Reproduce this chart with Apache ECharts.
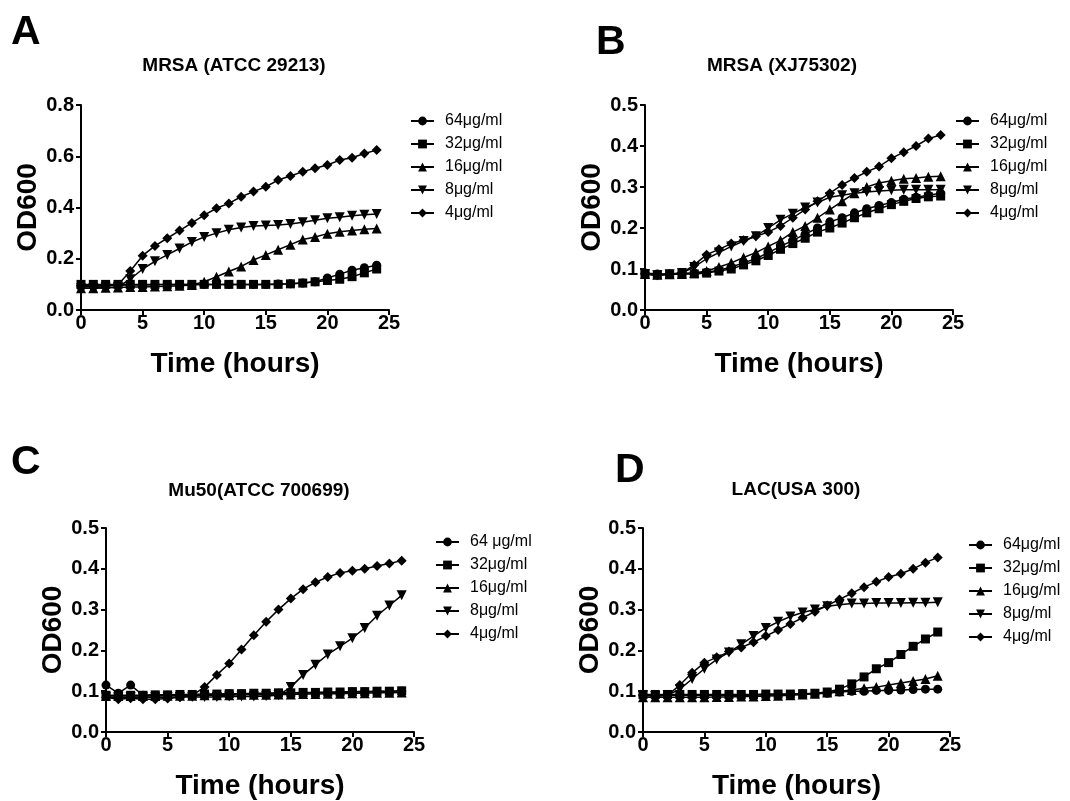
<!DOCTYPE html>
<html>
<head>
<meta charset="utf-8">
<script src="https://cdn.jsdelivr.net/npm/echarts@6/dist/echarts.min.js"></script>
<style>html,body{margin:0;padding:0;background:#fff}#c{width:1070px;height:801px}</style>
</head>
<body>
<div id="c"></div>
<script>
var hours = [0,1,2,3,4,5,6,7,8,9,10,11,12,13,14,15,16,17,18,19,20,21,22,23,24];
var xTicks = [0,5,10,15,20,25];

// Panel A: MRSA (ATCC 29213)
var a64 = [0.090,0.092,0.095,0.097,0.098,0.098,0.099,0.100,0.100,0.100,0.100,0.100,0.100,0.100,0.100,0.100,0.101,0.102,0.105,0.110,0.125,0.140,0.155,0.165,0.175];
var a32 = [0.100,0.100,0.100,0.100,0.100,0.100,0.100,0.100,0.100,0.100,0.100,0.100,0.100,0.100,0.100,0.100,0.100,0.102,0.105,0.110,0.115,0.120,0.130,0.145,0.160];
var a16 = [0.085,0.085,0.087,0.088,0.090,0.090,0.092,0.093,0.095,0.098,0.110,0.130,0.150,0.170,0.195,0.215,0.235,0.255,0.275,0.285,0.298,0.305,0.310,0.315,0.318];
var a8  = [0.085,0.085,0.088,0.090,0.120,0.160,0.190,0.215,0.240,0.265,0.285,0.300,0.313,0.322,0.328,0.330,0.332,0.336,0.342,0.350,0.358,0.362,0.368,0.372,0.375];
var a4  = [0.095,0.095,0.096,0.098,0.152,0.212,0.250,0.280,0.310,0.340,0.370,0.397,0.416,0.442,0.462,0.481,0.507,0.523,0.540,0.553,0.566,0.585,0.594,0.611,0.624];

// Panel B: MRSA (XJ75302)
var b64 = [0.090,0.088,0.088,0.089,0.090,0.092,0.097,0.105,0.115,0.125,0.140,0.155,0.170,0.185,0.200,0.215,0.225,0.237,0.247,0.255,0.262,0.270,0.275,0.280,0.285];
var b32 = [0.088,0.086,0.087,0.088,0.088,0.090,0.095,0.100,0.110,0.120,0.133,0.148,0.162,0.175,0.190,0.200,0.212,0.225,0.237,0.247,0.257,0.265,0.272,0.276,0.278];
var b16 = [0.088,0.086,0.087,0.088,0.090,0.095,0.105,0.115,0.128,0.140,0.155,0.170,0.190,0.205,0.225,0.245,0.265,0.285,0.300,0.310,0.315,0.320,0.322,0.325,0.326];
var b8  = [0.088,0.085,0.087,0.090,0.105,0.125,0.140,0.155,0.168,0.180,0.200,0.220,0.235,0.250,0.262,0.275,0.280,0.285,0.288,0.290,0.292,0.293,0.293,0.293,0.293];
var b4  = [0.088,0.085,0.088,0.090,0.110,0.135,0.148,0.162,0.170,0.180,0.190,0.205,0.225,0.245,0.265,0.285,0.305,0.322,0.337,0.350,0.370,0.385,0.400,0.418,0.427];

// Panel C: Mu50(ATCC 700699)
var c64 = [0.115,0.095,0.115,0.090,0.090,0.090,0.091,0.091,0.092,0.092,0.093,0.093,0.094,0.094,0.095,0.095,0.096,0.096,0.097,0.097,0.098,0.098,0.099,0.099,0.100];
var c32 = [0.090,0.090,0.090,0.090,0.091,0.091,0.092,0.092,0.093,0.093,0.094,0.094,0.095,0.095,0.096,0.096,0.097,0.097,0.098,0.098,0.099,0.099,0.100,0.100,0.101];
var c16 = [0.088,0.088,0.088,0.088,0.088,0.089,0.089,0.089,0.090,0.090,0.090,0.091,0.091,0.091,0.092,0.092,0.093,0.093,0.094,0.094,0.095,0.095,0.096,0.096,0.097];
var c8  = [0.085,0.085,0.085,0.085,0.085,0.085,0.086,0.086,0.086,0.086,0.087,0.087,0.087,0.088,0.090,0.110,0.140,0.165,0.190,0.210,0.230,0.255,0.285,0.310,0.335];
var c4  = [0.085,0.080,0.083,0.080,0.080,0.082,0.085,0.090,0.110,0.140,0.168,0.202,0.237,0.270,0.300,0.327,0.350,0.367,0.380,0.390,0.395,0.400,0.407,0.413,0.420];

// Panel D: LAC(USA 300)
var d64 = [0.090,0.090,0.090,0.090,0.090,0.090,0.090,0.090,0.090,0.090,0.091,0.091,0.092,0.093,0.094,0.095,0.098,0.100,0.100,0.102,0.102,0.103,0.104,0.105,0.105];
var d32 = [0.092,0.092,0.092,0.092,0.092,0.092,0.092,0.092,0.092,0.092,0.093,0.093,0.093,0.094,0.095,0.098,0.105,0.118,0.135,0.155,0.170,0.190,0.210,0.228,0.245];
var d16 = [0.085,0.085,0.085,0.085,0.085,0.085,0.086,0.086,0.087,0.087,0.088,0.089,0.090,0.092,0.094,0.097,0.100,0.103,0.107,0.110,0.115,0.120,0.125,0.130,0.138];
var d8  = [0.090,0.088,0.090,0.105,0.130,0.155,0.178,0.195,0.215,0.235,0.255,0.270,0.283,0.293,0.300,0.308,0.312,0.315,0.315,0.316,0.316,0.316,0.317,0.317,0.318];
var d4  = [0.090,0.088,0.090,0.115,0.145,0.170,0.183,0.197,0.207,0.220,0.235,0.250,0.265,0.280,0.295,0.310,0.325,0.340,0.355,0.368,0.380,0.388,0.400,0.415,0.428];

var namesABD = ['64\u03bcg/ml','32\u03bcg/ml','16\u03bcg/ml','8\u03bcg/ml','4\u03bcg/ml'];
var namesC = ['64 \u03bcg/ml','32\u03bcg/ml','16\u03bcg/ml','8\u03bcg/ml','4\u03bcg/ml'];
var titles = ['MRSA (ATCC 29213)','MRSA (XJ75302)','Mu50(ATCC 700699)','LAC(USA 300)'];
var letters = ['A','B','C','D'];
var yMaxes = [0.8,0.5,0.5,0.5];
var yIntervals = [0.2,0.1,0.1,0.1];

var panels = [[a64,a32,a16,a8,a4],[b64,b32,b16,b8,b4],[c64,c32,c16,c8,c4],[d64,d32,d16,d8,d4]];
var symbols = ['circle','rect','triangle','triangle','diamond'];
var rotates = [0,0,0,180,0];
var sizes = [9,9,10,10,10];

var FONT = 'Liberation Sans, Arial, sans-serif';
var grids = [
  {left:81, top:105, width:308, height:205},
  {left:645, top:105, width:308, height:205},
  {left:106, top:528, width:308, height:204},
  {left:643, top:528, width:307, height:204}
];
var legendPos = [
  {left:410, top:113},
  {left:955, top:113},
  {left:435, top:534},
  {left:968, top:537}
];
var titlePos = [
  {x:234, y:56},
  {x:782, y:56},
  {x:259, y:481},
  {x:796, y:480}
];
var letterPos = [
  {x:11, y:12},
  {x:596, y:22},
  {x:11, y:442},
  {x:615, y:450}
];

var axisLine = {show:true, lineStyle:{color:'#000', width:2}};
var xAxes = [], yAxes = [], series = [], legends = [], titleArr = [];
for (var p = 0; p < 4; p++) {
  xAxes.push({
    gridIndex:p, type:'value', min:0, max:25, interval:5,
    axisLine:axisLine, axisTick:{show:true, length:5, lineStyle:{color:'#000', width:2}},
    splitLine:{show:false},
    axisLabel:{color:'#000', fontSize:20, fontWeight:'bold', fontFamily:FONT, margin:3},
    name:'Time (hours)', nameLocation:'middle', nameGap:40,
    nameTextStyle:{color:'#000', fontSize:28, fontWeight:'bold', fontFamily:FONT}
  });
  yAxes.push({
    gridIndex:p, type:'value', min:0, max:yMaxes[p], interval:yIntervals[p],
    axisLine:axisLine, axisTick:{show:true, length:5, lineStyle:{color:'#000', width:2}},
    splitLine:{show:false},
    axisLabel:{color:'#000', fontSize:20, fontWeight:'bold', fontFamily:FONT, margin:7,
      formatter:function(v){return v.toFixed(1);}},
    name:'OD600', nameLocation:'middle', nameGap:38, nameRotate:90,
    nameTextStyle:{color:'#000', fontSize:28, fontWeight:'bold', fontFamily:FONT}
  });
  var nm = (p === 2) ? namesC : namesABD;
  for (var s = 0; s < 5; s++) {
    var vals = panels[p][s];
    var data = [];
    for (var i = 0; i < hours.length; i++) data.push([hours[i], vals[i]]);
    series.push({
      type:'line', name:nm[s], xAxisIndex:p, yAxisIndex:p, data:data,
      symbol:symbols[s], symbolRotate:rotates[s], symbolSize:sizes[s], showAllSymbol:true,
      lineStyle:{color:'#000', width:1.5}, itemStyle:{color:'#000'},
      animation:false, silent:true, z:2+s
    });
  }
  legends.push({
    orient:'vertical', left:legendPos[p].left, top:legendPos[p].top, padding:0,
    data:nm, itemWidth:23, itemHeight:11, itemGap:7, selectedMode:false,
    textStyle:{color:'#000', fontSize:16, fontFamily:FONT, padding:[0,0,0,6], lineHeight:16}
  });
  titleArr.push({
    text:titles[p], left:titlePos[p].x, top:titlePos[p].y, textAlign:'center', padding:0,
    textStyle:{color:'#000', fontSize:19, fontWeight:'bold', fontFamily:FONT}
  });
  titleArr.push({
    text:letters[p], left:letterPos[p].x, top:letterPos[p].y, padding:0,
    textStyle:{color:'#000', fontSize:41, fontWeight:'bold', fontFamily:FONT}
  });
}

var chart = echarts.init(document.getElementById('c'));
chart.setOption({
  backgroundColor:'#fff',
  animation:false,
  title:titleArr,
  grid:grids,
  xAxis:xAxes,
  yAxis:yAxes,
  legend:legends,
  series:series
});
</script>
</body>
</html>
